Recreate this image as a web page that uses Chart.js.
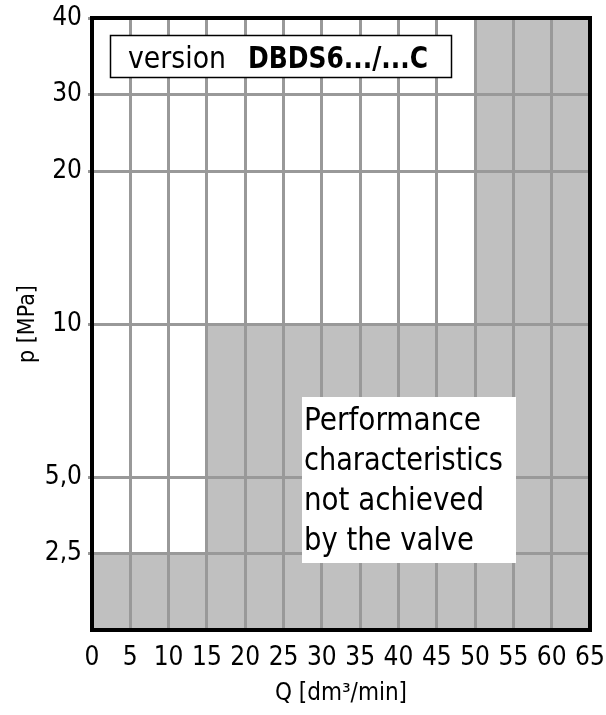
<!DOCTYPE html>
<html>
<head>
<meta charset="utf-8">
<script src="https://cdn.jsdelivr.net/npm/chart.js@4.4.1/dist/chart.umd.min.js"></script>
<style>
  html, body { margin: 0; padding: 0; background: #fff; }
  #wrap { width: 606px; height: 715px; }
</style>
</head>
<body>
<div id="wrap"><canvas id="chart"></canvas></div>
<script>
// Achsen
const qTicks = [0, 5, 10, 15, 20, 25, 30, 35, 40, 45, 50, 55, 60, 65];
const pTicks = [2.5, 5, 10, 20, 30, 40];
const pTickLabels = ['2,5', '5,0', '10', '20', '30', '40'];
// p-Achse ist stueckweise linear: 0..10 / 10..20 / 20..40
const pAxisBreaks = [0, 10, 20, 40];
const pAxisSpan = [0, 4, 6, 8];

// Grenze des grauen Bereichs (nicht erreichbar)
const limitQ = [0, 15, 50, 65];
const limitP = [2.5, 10, 40, 40];

const versionText = ['version', 'DBDS6.../...C'];
const noteLines = ['Performance', 'characteristics', 'not achieved', 'by the valve'];

const FONT = "'DejaVu Sans Condensed', 'Liberation Sans Narrow', 'DejaVu Sans', sans-serif";

// eigene Skala fuer p
class PressureScale extends Chart.LinearScale {
  toSpan(v) {
    const n = pAxisBreaks.length;
    for (let i = 1; i < n; i++) {
      if (v <= pAxisBreaks[i] || i === n - 1) {
        const a = pAxisBreaks[i - 1], b = pAxisBreaks[i];
        return pAxisSpan[i - 1] + (v - a) / (b - a) * (pAxisSpan[i] - pAxisSpan[i - 1]);
      }
    }
  }
  fromSpan(u) {
    const n = pAxisSpan.length;
    for (let i = 1; i < n; i++) {
      if (u <= pAxisSpan[i] || i === n - 1) {
        const a = pAxisSpan[i - 1], b = pAxisSpan[i];
        return pAxisBreaks[i - 1] + (u - a) / (b - a) * (pAxisBreaks[i] - pAxisBreaks[i - 1]);
      }
    }
  }
  buildTicks() {
    return pTicks.map(v => ({value: v}));
  }
  getPixelForValue(v) {
    if (v === null || v === undefined || isNaN(v)) return NaN;
    return this.getPixelForDecimal(this.toSpan(v) / pAxisSpan[pAxisSpan.length - 1]);
  }
  getValueForPixel(px) {
    return this.fromSpan(this.getDecimalForPixel(px) * pAxisSpan[pAxisSpan.length - 1]);
  }
}
PressureScale.id = 'pressure';
PressureScale.defaults = Chart.LinearScale.defaults;
Chart.register(PressureScale);

// Rahmen und Textfelder
const notesPlugin = {
  id: 'notes',
  afterDraw(chart) {
    const ctx = chart.ctx;
    const a = chart.chartArea;
    ctx.save();

    // Rahmen
    ctx.strokeStyle = '#000';
    ctx.lineWidth = 4;
    ctx.strokeRect(a.left, a.top, a.right - a.left, a.bottom - a.top);

    // Versionsfeld
    ctx.fillStyle = '#fff';
    ctx.fillRect(110, 35, 342, 43);
    ctx.lineWidth = 1.5;
    ctx.strokeRect(110.5, 35.5, 341, 42);
    ctx.fillStyle = '#000';
    ctx.textBaseline = 'alphabetic';
    ctx.textAlign = 'left';
    ctx.font = '31px ' + FONT;
    ctx.fillText(versionText[0], 128, 68, 98);
    ctx.font = 'bold 31px ' + FONT;
    ctx.fillText(versionText[1], 248, 68, 180);

    // Hinweisfeld
    ctx.fillStyle = '#fff';
    ctx.fillRect(302, 397, 214, 166);
    ctx.fillStyle = '#000';
    ctx.font = '32px ' + FONT;
    const widths = [177, 199, 180, 170];
    noteLines.forEach((t, i) => ctx.fillText(t, 304, 430 + i * 40, widths[i]));

    ctx.restore();
  }
};

const tickFont = {family: FONT, size: 26};

new Chart(document.getElementById('chart'), {
  type: 'line',
  data: {
    datasets: [{
      data: limitQ.map((q, i) => ({x: q, y: limitP[i]})),
      stepped: 'before',
      fill: 'origin',
      backgroundColor: '#c0c0c0',
      borderColor: '#000',
      borderWidth: 1,
      pointRadius: 0
    }]
  },
  options: {
    responsive: true,
    maintainAspectRatio: false,
    animation: false,
    layout: {padding: {top: 18, right: 16, left: 0, bottom: 0}},
    plugins: {legend: {display: false}, tooltip: {enabled: false}},
    scales: {
      x: {
        type: 'linear',
        min: 0,
        max: 65,
        afterBuildTicks: s => { s.ticks = qTicks.map(v => ({value: v})); },
        afterFit: s => { s.height = 85; s.paddingLeft = 0; s.paddingRight = 0; },
        grid: {color: '#999', lineWidth: 3, z: 1, drawTicks: false},
        border: {display: false},
        ticks: {color: '#000', font: tickFont, padding: 13, autoSkip: false, maxRotation: 0, minRotation: 0},
        title: {display: true, text: 'Q [dm³/min]', color: '#000', font: {family: FONT, size: 24}, padding: {top: 0, bottom: 7}}
      },
      y: {
        type: 'pressure',
        min: 0,
        max: 40,
        afterFit: s => { s.width = 92; s.paddingTop = 0; s.paddingBottom = 0; },
        grid: {color: '#999', lineWidth: 3, z: 1, tickLength: 4},
        border: {display: false},
        ticks: {color: '#000', font: tickFont, padding: 6, autoSkip: false, callback: (v, i) => pTickLabels[i]},
        title: {display: true, text: 'p [MPa]', color: '#000', font: {family: FONT, size: 23}, padding: {top: 14, bottom: 0}}
      }
    }
  },
  plugins: [notesPlugin]
});
</script>
</body>
</html>
